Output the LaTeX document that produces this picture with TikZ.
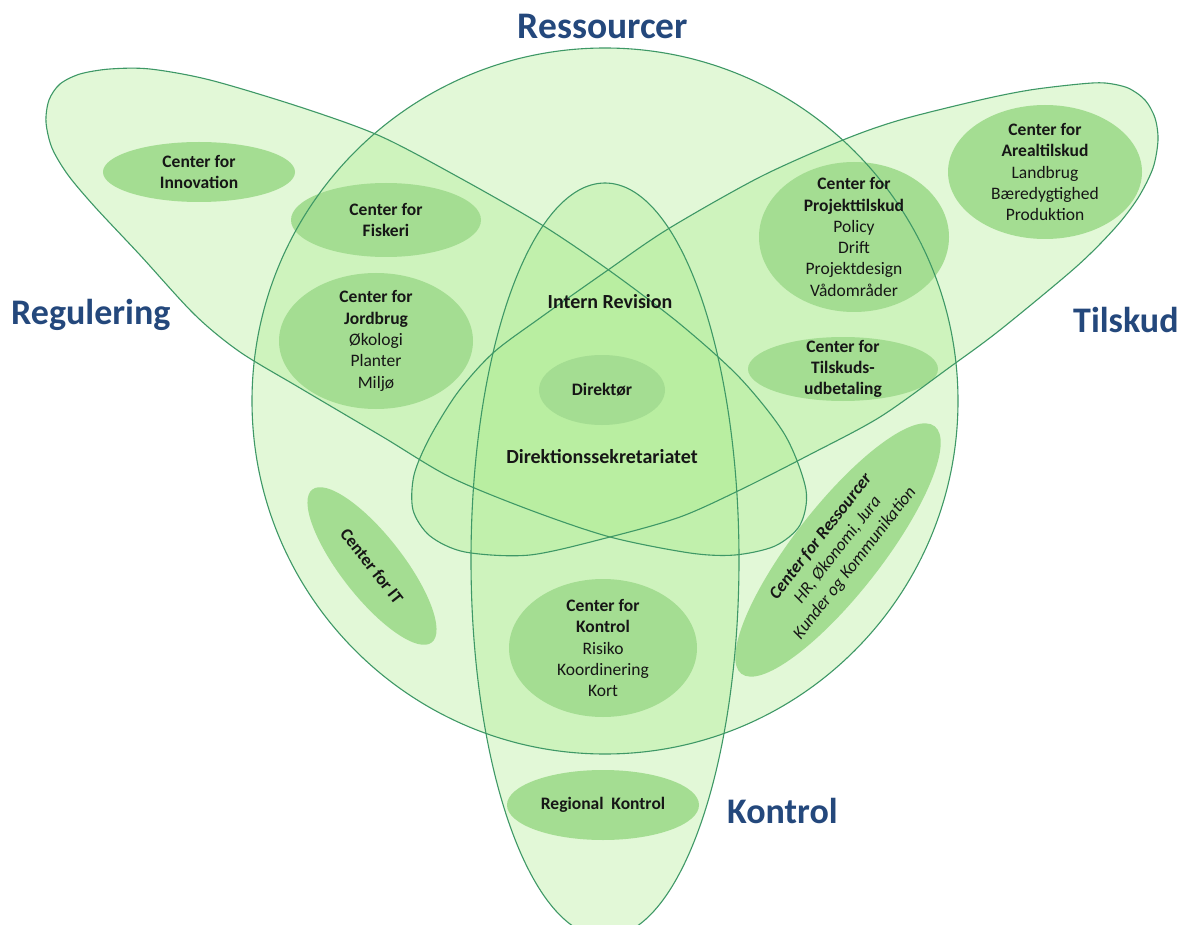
\documentclass[tikz,border=0pt]{standalone}
\usepackage{fontspec}
\setmainfont{Carlito}
\usetikzlibrary{shapes.geometric}
\definecolor{edgec}{RGB}{62,152,102}
\definecolor{layerc}{RGB}{170,236,140}
\definecolor{blobc}{RGB}{164,221,146}
\definecolor{titlec}{RGB}{36,72,124}
\definecolor{txtc}{RGB}{22,22,22}
\begin{document}
\begin{tikzpicture}[x=1pt,y=-1pt,
  zone/.style={fill=layerc,fill opacity=0.34},
  rim/.style={draw=edgec,line width=1.1pt},
  blob/.style={ellipse,fill=blobc,inner sep=0pt,outer sep=0pt},
  lbl/.style={align=center,text=txtc,inner sep=0pt,font=\fontsize{17.5}{21.3}\selectfont},
  biglbl/.style={text=txtc,inner sep=0pt,font=\fontsize{20}{24}\selectfont\bfseries},
  title/.style={text=titlec,inner sep=0pt,font=\fontsize{36}{42}\selectfont\bfseries}]
\useasboundingbox (0,0) rectangle (1178,925);
\clip (0,0) rectangle (1178,925);
\fill[white] (0,0) rectangle (1178,925);
% ---- zones (translucent fills) ----
\fill[zone] (605,401) circle [radius=353];
\fill[zone] plot[smooth cycle] coordinates {(46,122) (49,100) (60,84) (80,74) (110,69) (150,69) (210,80) (300,107) (380,136) (460,178) (542,225) (610,271) (680,324) (740,378) (785,435) (806,490) (800,525) (775,546) (735,555) (690,553) (610,537) (530,510) (450,477) (383,437) (300,388) (240,352) (195,315) (140,255) (95,207) (68,175) (52,148)};
\fill[zone] plot[smooth cycle] coordinates {(1158,140) (1155,118) (1145,100) (1128,88) (1105,83) (1080,84) (1030,90) (980,100) (900,120) (843,140) (760,177) (668,229) (608,270) (540,318) (493,353) (458,392) (430,437) (414,475) (413,510) (430,536) (465,552) (530,555) (610,537) (680,517) (740,490) (809,455) (880,417) (950,367) (1000,330) (1076,267) (1115,228) (1138,198) (1153,168)};
\fill[zone] (605,560) ellipse [x radius=134, y radius=377];
% ---- unit ellipses ----
\node[blob,minimum width=192pt,minimum height=60pt] (innov) at (199,172) {};
\node[blob,minimum width=190pt,minimum height=74pt] (fisk) at (386,220) {};
\node[blob,minimum width=194pt,minimum height=136pt] (jord) at (376,341) {};
\node[blob,minimum width=190pt,minimum height=150pt] (proj) at (854,237) {};
\node[blob,minimum width=194pt,minimum height=134pt] (areal) at (1045,172) {};
\node[blob,minimum width=190pt,minimum height=64pt] (udb) at (843,369) {};
\node[blob,minimum width=126pt,minimum height=70pt] (dir) at (602,390) {};
\node[blob,rotate=-52,minimum width=194pt,minimum height=62pt] (itb) at (372,566) {};
\node[blob,rotate=52,minimum width=314pt,minimum height=88pt] (resb) at (838,550) {};
\node[blob,minimum width=188pt,minimum height=138pt] (kon) at (603,648) {};
\node[blob,minimum width=192pt,minimum height=70pt] (regk) at (603,805) {};
% ---- outlines ----
\draw[rim] (605,401) circle [radius=353];
\draw[rim] plot[smooth cycle] coordinates {(46,122) (49,100) (60,84) (80,74) (110,69) (150,69) (210,80) (300,107) (380,136) (460,178) (542,225) (610,271) (680,324) (740,378) (785,435) (806,490) (800,525) (775,546) (735,555) (690,553) (610,537) (530,510) (450,477) (383,437) (300,388) (240,352) (195,315) (140,255) (95,207) (68,175) (52,148)};
\draw[rim] plot[smooth cycle] coordinates {(1158,140) (1155,118) (1145,100) (1128,88) (1105,83) (1080,84) (1030,90) (980,100) (900,120) (843,140) (760,177) (668,229) (608,270) (540,318) (493,353) (458,392) (430,437) (414,475) (413,510) (430,536) (465,552) (530,555) (610,537) (680,517) (740,490) (809,455) (880,417) (950,367) (1000,330) (1076,267) (1115,228) (1138,198) (1153,168)};
\draw[rim] (605,560) ellipse [x radius=134, y radius=377];
% ---- titles ----
\node[title,anchor=base,font=\fontsize{37.5}{44}\selectfont\bfseries] (tRes) at (603,39) {Ressourcer};
\node[title,anchor=base west] (tReg) at (11,325) {Regulering};
\node[title,anchor=base west] (tTil) at (1073,332) {Tilskud};
\node[title,anchor=base west] (tKon) at (727,823) {Kontrol};
% ---- texts ----
\node[lbl] (innovT) at (innov) {\textbf{Center for}\\\textbf{Innovation}};
\node[lbl] (fiskT) at (fisk) {\textbf{Center for}\\\textbf{Fiskeri}};
\node[lbl] (jordT) at (jord) {\textbf{Center for}\\\textbf{Jordbrug}\\Økologi\\Planter\\Miljø};
\node[lbl] (projT) at (proj) {\textbf{Center for}\\\textbf{Projekttilskud}\\Policy\\Drift\\Projektdesign\\Vådområder};
\node[lbl] (arealT) at (areal) {\textbf{Center for}\\\textbf{Arealtilskud}\\Landbrug\\Bæredygtighed\\Produktion};
\node[lbl] (udbT) at (udb) {\textbf{Center for}\\\textbf{Tilskuds-}\\\textbf{udbetaling}};
\node[lbl] (dirT) at (dir) {\textbf{Direktør}};
\node[lbl,rotate=-52] (itT) at (itb) {\textbf{Center for IT}};
\node[lbl,rotate=52,font=\fontsize{17.5}{21.5}\selectfont\itshape] (resT) at (resb) {\textbf{Center for Ressourcer}\\HR, Økonomi, Jura\\Kunder og Kommunikation};
\node[lbl] (konT) at (kon) {\textbf{Center for}\\\textbf{Kontrol}\\Risiko\\Koordinering\\Kort};
\node[lbl] (regkT) at (regk) {\textbf{Regional\hspace{0.45em}Kontrol}};
\node[biglbl] (intern) at (610,302) {Intern Revision};
\node[biglbl] (dsek) at (602,457) {Direktionssekretariatet};
\end{tikzpicture}
\end{document}
